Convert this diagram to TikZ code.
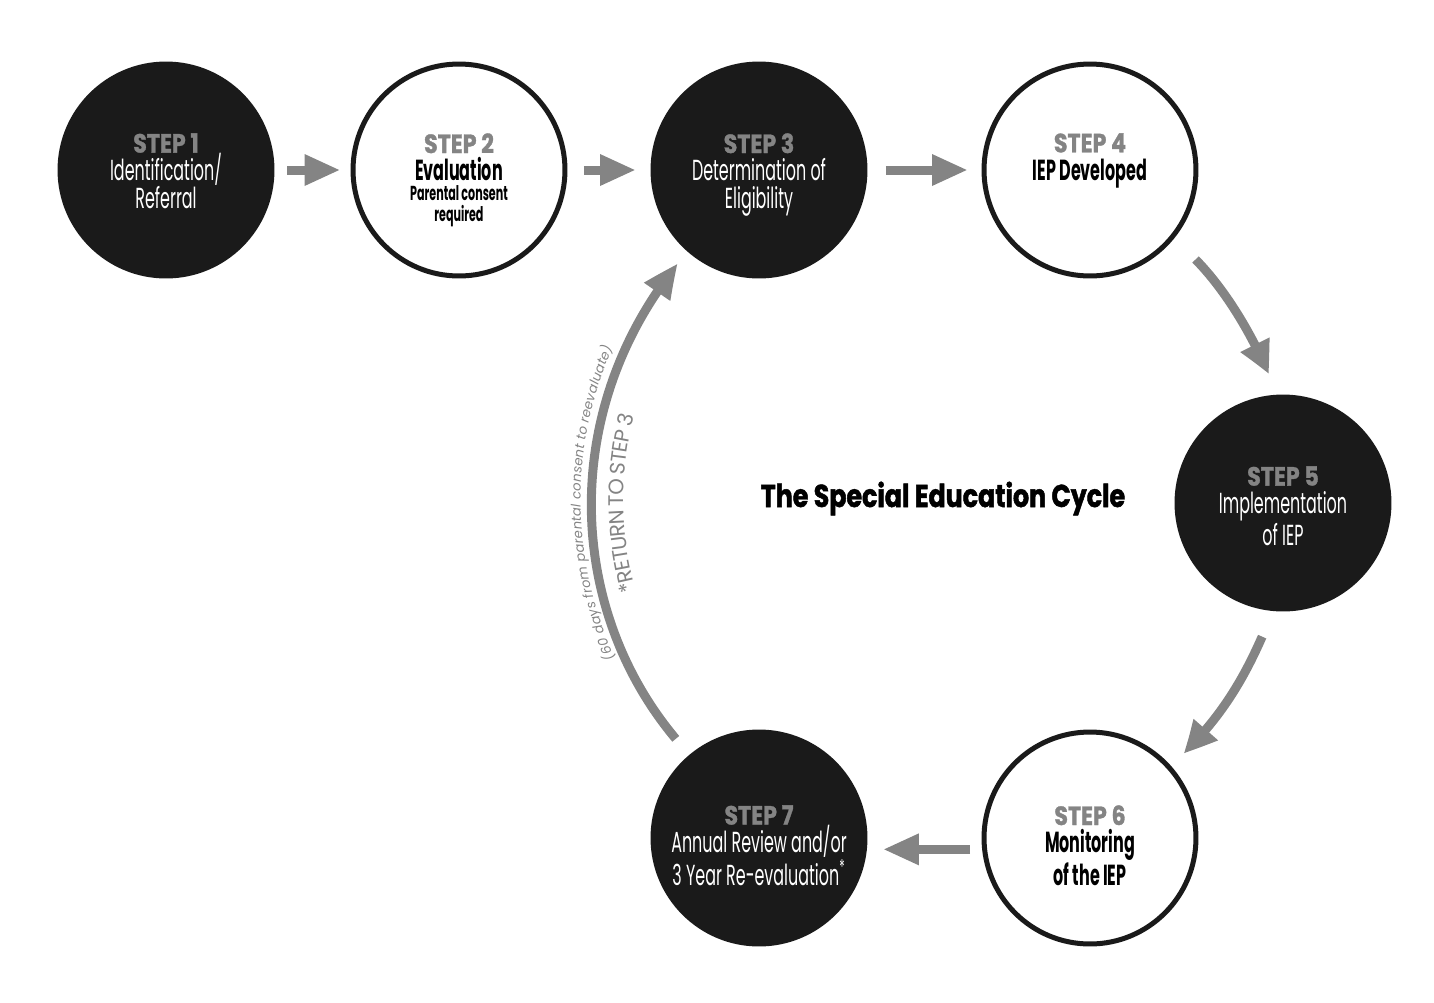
\documentclass[tikz,border=0pt]{standalone}
\usepackage{fontspec}
\setmainfont{Poppins}
\newfontfamily\narrowfont[FakeStretch=0.55]{Poppins}
\newfontfamily\labelfont[FakeStretch=0.84,FakeBold=1.2]{Poppins}
\newfontfamily\headfont[FakeStretch=0.8,FakeBold=1.5]{Poppins}
\usepackage{tikz}
\usetikzlibrary{arrows.meta,decorations.text,bending}
\definecolor{ink}{HTML}{1A1A1A}
\definecolor{flowgray}{HTML}{848484}
\newcommand{\steplabel}[1]{{\labelfont\color{flowgray}\bfseries\fontsize{15}{15}\selectfont #1}}
\newcommand{\smallline}[1]{{\bfseries\fontsize{11.5}{11.5}\selectfont #1}}

\begin{document}
\begin{tikzpicture}[x=0.02cm,y=-0.02cm,
  stepcircle/.style={circle,minimum size=4.24cm,line width=0.1cm,inner sep=0pt},
  darkstep/.style={stepcircle,fill=ink,draw=ink},
  lightstep/.style={stepcircle,fill=white,draw=ink},
  steptext/.style={anchor=north,align=center,inner sep=0pt,font=\narrowfont\fontsize{16.5}{15.9}\selectfont},
  flow/.style={line width=0.18cm,color=flowgray,-{Triangle[width=0.58cm,length=0.72cm,bend]}}]
\useasboundingbox (0,0) rectangle (1434,1002);
\node[darkstep] (s1) at (166,170) {};
\node[lightstep] (s2) at (459,170) {};
\node[darkstep] (s3) at (759,170) {};
\node[lightstep] (s4) at (1090,170) {};
\node[darkstep] (s5) at (1283,503) {};
\node[lightstep] (s6) at (1090,838) {};
\node[darkstep] (s7) at (759,838) {};
\node[steptext,text=white] (t1) at (166,133) {\steplabel{STEP 1}\\Identification/\\Referral};
\node[steptext] (t2) at (459,133) {\steplabel{STEP 2}\\{\bfseries Evaluation}\\[-5pt]\smallline{Parental consent}\\[-4pt]\smallline{required}};
\node[steptext,text=white] (t3) at (759,133) {\steplabel{STEP 3}\\Determination of\\Eligibility};
\node[steptext] (t4) at (1090,133) {\steplabel{STEP 4}\\{\bfseries IEP Developed}};
\node[steptext,text=white] (t5) at (1283,466) {\steplabel{STEP 5}\\Implementation\\of IEP};
\node[steptext] (t6) at (1090,805) {\steplabel{STEP 6}\\{\bfseries Monitoring}\\{\bfseries of the IEP}};
\node[steptext,text=white] (t7) at (759,805) {\steplabel{STEP 7}\\Annual Review and/or\\3 Year Re-evaluation\textsuperscript{*}};
\node[anchor=base,inner sep=0pt,font=\headfont\bfseries\fontsize{18}{18}\selectfont] (title) at (943,507) {The Special Education Cycle};
\draw[flow,shorten <=0.26cm,shorten >=0.2cm] (s1) -- (s2);
\draw[flow,shorten <=0.33cm,shorten >=0.29cm] (s2) -- (s3);
\draw[flow,shorten <=0.37cm,shorten >=0.27cm] (s3) -- (s4);
\draw[flow,shorten <=0.6cm,shorten >=0.44cm] (s4.-39) to[out=-45,in=112] (s5.93);
\draw[flow,shorten <=0.56cm,shorten >=0.34cm] (s5.-95) to[out=-114,in=42] (s6.42);
\draw[flow,shorten <=0.24cm,shorten >=0.32cm] (s6.186) -- (s7.-6);
\draw[flow,shorten <=0.42cm,shorten >=0.3cm] (s7.130) to[out=130,in=229] (s3.229);
\path[decorate,decoration={text along path,text align=center,raise=-0.62cm,
  text={|\color{flowgray}\fontsize{12}{12}\selectfont|*RETURN TO STEP 3}}] (s7.130) to[out=130,in=229] (s3.229);
\path[decorate,decoration={text along path,text align=center,raise=0.24cm,
  text={|\color{flowgray}\itshape\fontsize{7.5}{7.5}\selectfont|(60 days from parental consent to reevaluate)}}] (s7.130) to[out=130,in=229] (s3.229);
\end{tikzpicture}
\end{document}
